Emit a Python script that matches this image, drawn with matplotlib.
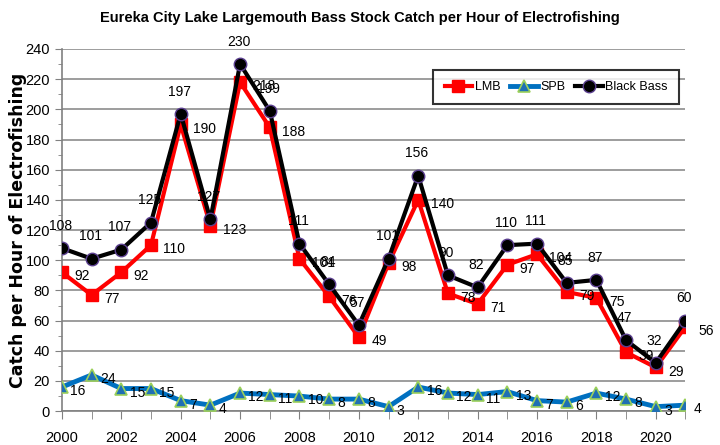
import numpy as np
import matplotlib
matplotlib.use('Agg')
import matplotlib.pyplot as plt
from matplotlib.ticker import MultipleLocator

years = list(range(2000, 2022))
lmb = [92, 77, 92, 110, 190, 123, 218, 188, 101, 76, 49, 98, 140, 78, 71, 97, 104, 79, 75, 39, 29, 56]
spb = [16, 24, 15, 15, 7, 4, 12, 11, 10, 8, 8, 3, 16, 12, 11, 13, 7, 6, 12, 8, 3, 4]
black_bass = [108, 101, 107, 125, 197, 127, 230, 199, 111, 84, 57, 101, 156, 90, 82, 110, 111, 85, 87, 47, 32, 60]

title = 'Eureka City Lake Largemouth Bass Stock Catch per Hour of Electrofishing'
ylabel = 'Catch per Hour of Electrofishing'

plt.rcParams['font.family'] = ['Liberation Sans', 'DejaVu Sans']
lab_fs = 10

fig = plt.figure(figsize=(7.2, 4.45), dpi=100)
ax = fig.add_axes([0.086, 0.076, 0.866, 0.814])

ax.plot(years, spb, color='#0070c0', lw=3.5, marker='^', ms=8,
        mfc='#1f6fb4', mec='#9bd05a', mew=1.2, label='SPB', zorder=3)
ax.plot(years, lmb, color='#ff0000', lw=3, marker='s', ms=9,
        mfc='#ff0000', mec='#ff0000', label='LMB', zorder=4)
ax.plot(years, black_bass, color='black', lw=3, marker='o', ms=9,
        mfc='black', mec='#5b3f8f', mew=1, label='Black Bass', zorder=5)

# data labels
for x, v in zip(years, black_bass):
    ax.annotate(str(v), (x, v), xytext=(-1, 11), textcoords='offset points',
                ha='center', va='bottom', fontsize=lab_fs, zorder=6)
for x, v in zip(years, lmb):
    ax.annotate(str(v), (x, v), xytext=(9, -3), textcoords='offset points',
                ha='left', va='center', fontsize=lab_fs, zorder=6)
for x, v in zip(years, spb):
    ax.annotate(str(v), (x, v), xytext=(6, -3), textcoords='offset points',
                ha='left', va='center', fontsize=lab_fs, zorder=6)

ax.set_xlim(2000, 2021)
ax.set_ylim(0, 240)
ax.xaxis.set_major_locator(MultipleLocator(2))
ax.xaxis.set_minor_locator(MultipleLocator(1))
ax.yaxis.set_major_locator(MultipleLocator(20))
ax.yaxis.set_minor_locator(MultipleLocator(10))
ax.grid(axis='y', which='major', color='#8c8c8c', lw=1.2, zorder=0)
ax.tick_params(axis='both', which='both', direction='out', colors='#808080',
               labelcolor='black', labelsize=10.5)
ax.tick_params(axis='x', which='major', length=6, pad=8)
ax.tick_params(axis='x', which='minor', length=6)
ax.tick_params(axis='y', which='major', length=5)
ax.tick_params(axis='y', which='minor', length=3)
for s in ['top', 'right']:
    ax.spines[s].set_visible(False)
ax.spines['left'].set_color('#808080')
ax.spines['bottom'].set_color('#808080')
ax.spines['left'].set_linewidth(1.2)
ax.spines['bottom'].set_linewidth(1.2)

ax.set_ylabel(ylabel, fontsize=12.5, fontweight='bold', family='DejaVu Sans',
              va='center')
ax.yaxis.set_label_coords(-0.07, 0.5)
fig.suptitle(title, x=0.5, y=0.975, fontsize=10.5, fontweight='bold')

h, l = ax.get_legend_handles_labels()
order = [1, 0, 2]
leg = ax.legend([h[i] for i in order], [l[i] for i in order], loc='upper right',
                bbox_to_anchor=(1.0, 0.96), ncol=3, frameon=True, fancybox=False,
                edgecolor='black', fontsize=9,
                handlelength=2.2, columnspacing=0.8, borderpad=0.9, handletextpad=0.2)
leg.get_frame().set_linewidth(1.5)

fig.savefig('out.png', dpi=100)
